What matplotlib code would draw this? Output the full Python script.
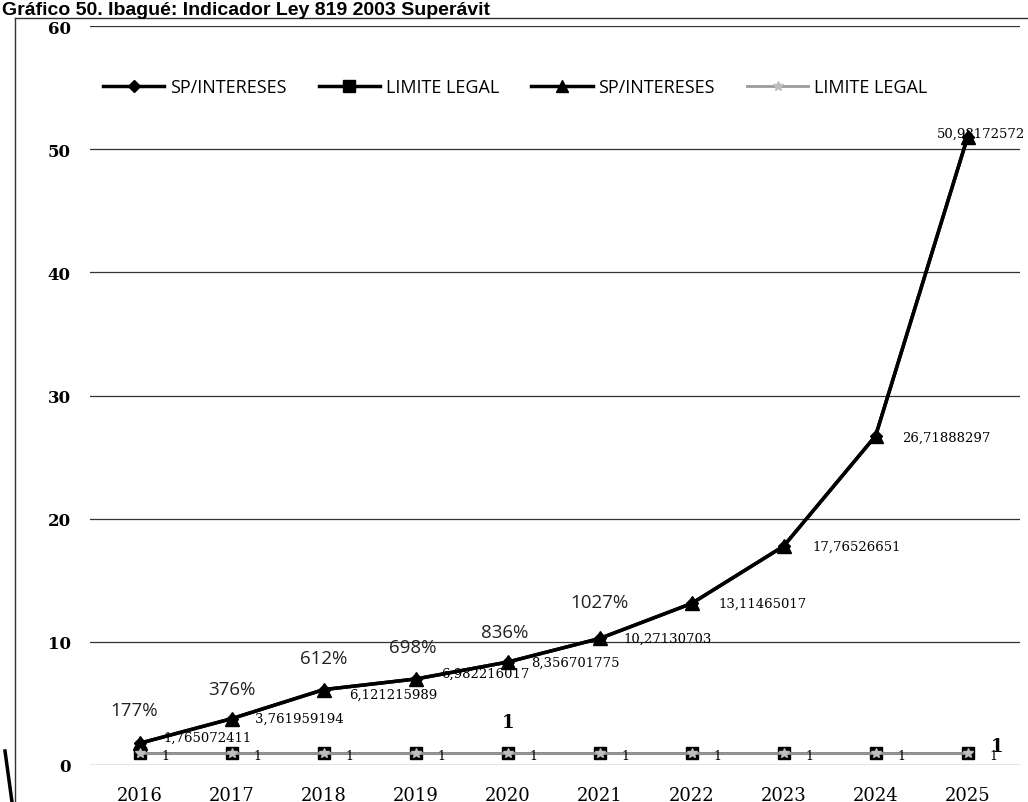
import matplotlib
matplotlib.use("Agg")
import matplotlib.pyplot as plt
from matplotlib.lines import Line2D

years = ['2016', '2017', '2018', '2019', '2020', '2021', '2022', '2023', '2024', '2025']
sp_intereses = [1.765072411, 3.761959194, 6.121215989, 6.982216017, 8.356701775,
                10.27130703, 13.11465017, 17.76526651, 26.71888297, 50.98172572]
limite_legal = [1, 1, 1, 1, 1, 1, 1, 1, 1, 1]
sp_labels = ['1,765072411', '3,761959194', '6,121215989', '6,982216017', '8,356701775',
             '10,27130703', '13,11465017', '17,76526651', '26,71888297', '50,98172572']
pct_labels = ['177%', '376%', '612%', '698%', '836%', '1027%']
y_ticks = [0, 10, 20, 30, 40, 50, 60]
title = 'Gráfico 50. Ibagué: Indicador Ley 819 2003 Superávit'

sans = 'Open Sans'
serif = 'DejaVu Serif'

W, H = 1028, 803
fig = plt.figure(figsize=(W / 100, H / 100), dpi=100)
ax = fig.add_axes([90 / W, 1 - 766 / H, 930 / W, 739 / H])

x = list(range(len(years)))

# series
ax.plot(x, sp_intereses, color='black', lw=2.5, marker='D', ms=6, zorder=3)
ax.plot(x, limite_legal, color='black', lw=2.0, marker='s', ms=9, zorder=3)
ax.plot(x, sp_intereses, color='black', lw=2.5, marker='^', ms=10, zorder=4)
ax.plot(x, limite_legal, color='#9a9a9a', lw=2.0, marker='*', ms=7,
        mfc='#bdbdbd', mec='#bdbdbd', zorder=4)

ax.set_xlim(-0.54, 9.57)
ax.set_ylim(0, 60)
ax.set_yticks(y_ticks)
ax.set_xticks(x)
ax.set_xticklabels(years, family=serif, fontsize=13)
ax.set_yticklabels([str(t) for t in y_ticks], family=serif, fontsize=12, fontweight='bold')
ax.tick_params(axis='x', length=0, pad=15)
ax.tick_params(axis='y', length=0, pad=14)
for s in ax.spines.values():
    s.set_visible(False)
ax.grid(axis='y', color='#333333', lw=0.9)
ax.set_axisbelow(True)

# value labels of SP/INTERESES
dys = [4, 0, -3, 4, 0, 0, 0, 0, -1, 3]
dxs = [17, 17, 18, 18, 17, 17, 19, 21, 19, 10]
has = ['left'] * 9 + ['center']
for i, lab in enumerate(sp_labels):
    ax.annotate(lab, (x[i], sp_intereses[i]), xytext=(dxs[i], dys[i]),
                textcoords='offset points', ha=has[i], va='center',
                family=serif, fontsize=9.5, zorder=5)

# percentage labels
pdx = [-4, 0, 0, -2, -2, 0]
pdy = [24, 21, 23, 23, 22, 26]
for i, lab in enumerate(pct_labels):
    ax.annotate(lab, (x[i], sp_intereses[i]), xytext=(pdx[i], pdy[i]),
                textcoords='offset points', ha='center', va='center',
                family=sans, fontsize=13.5, color='#222222', zorder=5)

# LIMITE LEGAL labels
for i, v in enumerate(limite_legal):
    ax.annotate(str(v), (x[i], v), xytext=(16, -2), textcoords='offset points',
                ha='left', va='center', family=serif, fontsize=9, zorder=5)

ax.annotate(str(limite_legal[4]), (x[4], limite_legal[4]), xytext=(0, 22),
            textcoords='offset points', ha='center', va='center',
            family=serif, fontsize=13, fontweight='bold', zorder=5)
ax.annotate(str(limite_legal[9]), (x[9], limite_legal[9]), xytext=(17, 5),
            textcoords='offset points', ha='left', va='center',
            family=serif, fontsize=13, fontweight='bold', zorder=5)

# legend
handles = [
    Line2D([], [], color='black', lw=2.5, marker='D', ms=6),
    Line2D([], [], color='black', lw=2.5, marker='s', ms=8),
    Line2D([], [], color='black', lw=2.5, marker='^', ms=8),
    Line2D([], [], color='#9a9a9a', lw=2.0, marker='*', ms=7, mfc='#bdbdbd', mec='#bdbdbd'),
]
labels = ['SP/INTERESES', 'LIMITE LEGAL', 'SP/INTERESES', 'LIMITE LEGAL']
fig.legend(handles, labels, loc='center', bbox_to_anchor=(515 / W, 1 - 88 / H),
           ncol=4, frameon=False, handlelength=3.4, handletextpad=0.3,
           columnspacing=1.8, prop={'family': sans, 'size': 13})

# frame and title
fig.add_artist(Line2D([15 / W, 1], [1 - 19 / H, 1 - 19 / H], color='#333333', lw=1.0))
fig.add_artist(Line2D([15 / W, 15 / W], [0, 1 - 19 / H], color='#333333', lw=1.0))
fig.text(2 / W, 1 - 15 / H, title, ha='left', va='baseline',
         family='Liberation Sans', fontsize=14, fontweight='bold')
# scan mark
fig.add_artist(Line2D([5 / W, 12 / W], [1 - 752 / H, 0], color='black', lw=2.5))

fig.savefig('out.png', dpi=100)
